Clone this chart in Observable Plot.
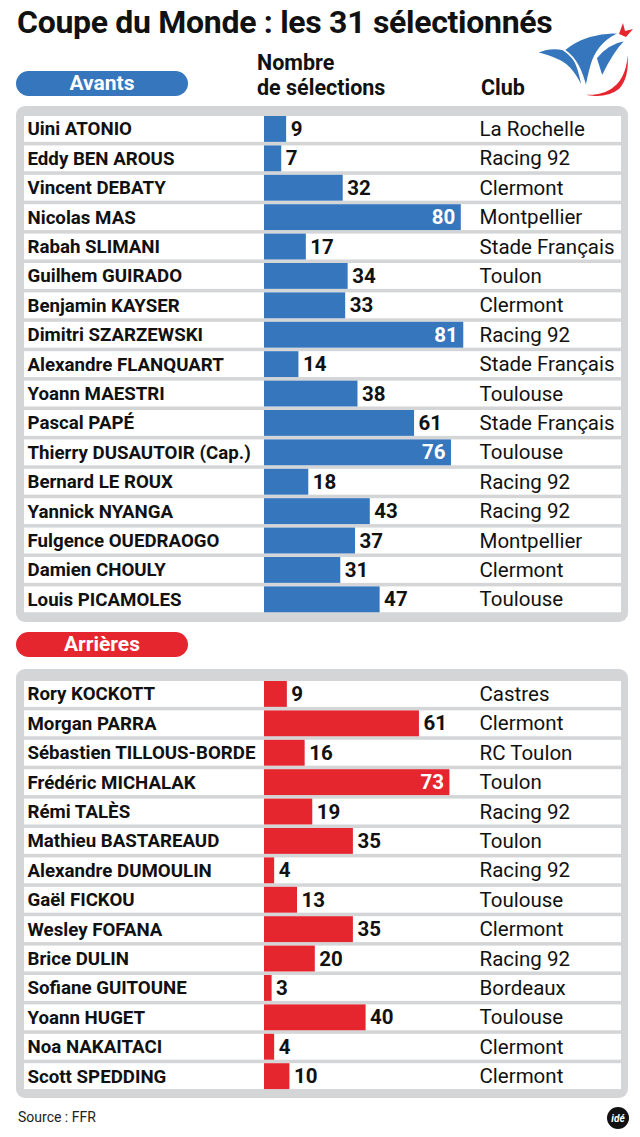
<!DOCTYPE html>
<html><head><meta charset="utf-8">
<script src="https://cdn.jsdelivr.net/npm/d3@7"></script>
<script src="https://cdn.jsdelivr.net/npm/@observablehq/plot@0.6"></script>
<style>
body{margin:0;background:#fff;font-family:Roboto,"Open Sans",sans-serif;}
#root{position:relative;width:640px;height:1137px;overflow:hidden;}
.abs{position:absolute;}
.title{left:17px;top:3px;font-size:32px;font-weight:700;color:#111;letter-spacing:-0.3px;white-space:nowrap;}
.pill{left:16px;width:172px;height:25px;border-radius:13px;color:#fff;font-weight:700;font-size:21px;line-height:25px;text-align:center;}
.hdr{font-weight:700;font-size:21.5px;color:#111;line-height:25px;}
.panel{left:16px;width:612px;background:#d4d5d7;border-radius:9px;}
.panel svg{display:block;}
.src{left:18px;top:1109px;font-size:14px;color:#222;}
</style></head>
<body><div id="root">
<div class="abs title">Coupe du Monde : les 31 sélectionnés</div>
<svg class="abs" style="left:520px;top:20px" width="120" height="90" viewBox="0 0 120 90">
  <g stroke="#fff" stroke-width="1.6" stroke-linejoin="round">
  <path d="M16 33 C28 27 42 27 50 33 C56 40 60 52 63 70 C56 54 48 45 40 41 C32 37 24 34 16 33 Z" fill="#3576bd"/>
  <path d="M44 30 C58 18 80 11 100 13 C88 18 78 28 73 40 C70 48 68 58 66 68 C62 52 57 39 44 30 Z" fill="#3576bd"/>
  <path d="M76 38 C84 28 94 22 106 20 C98 28 90 40 82 57 Z" fill="#3576bd"/>
  <path d="M50 68 C62 77 84 76 96 64 C105 54 108 40 106 24 C111 42 109 60 99 70 C86 80 64 79 50 68 Z" fill="#e5262f"/>
  </g>
  <path d="M99 14 L103 3 L105 11 L113 9 L106 17 Z" fill="#e5262f"/>
</svg>
<div class="abs pill" style="top:71px;background:#3576bd">Avants</div>
<div class="abs hdr" style="left:257px;top:50px">Nombre<br>de sélections</div>
<div class="abs hdr" style="left:481px;top:75px">Club</div>
<div class="abs panel" id="p1" style="top:106px;height:516px"></div>
<div class="abs pill" style="top:632px;background:#e5262f">Arrières</div>
<div class="abs panel" id="p2" style="top:669px;height:429px"></div>
<div class="abs src">Source : FFR</div>
<svg class="abs" style="left:606px;top:1106px" width="24" height="24"><circle cx="12" cy="12" r="11" fill="#111"/><text x="12" y="16" text-anchor="middle" fill="#fff" font-size="10" font-weight="700" font-style="italic" font-family="Roboto">idé</text></svg>
</div>
<script>
const avantsNames = ["Uini ATONIO","Eddy BEN AROUS","Vincent DEBATY","Nicolas MAS","Rabah SLIMANI","Guilhem GUIRADO","Benjamin KAYSER","Dimitri SZARZEWSKI","Alexandre FLANQUART","Yoann MAESTRI","Pascal PAPÉ","Thierry DUSAUTOIR (Cap.)","Bernard LE ROUX","Yannick NYANGA","Fulgence OUEDRAOGO","Damien CHOULY","Louis PICAMOLES"];
const avantsSel = [9,7,32,80,17,34,33,81,14,38,61,76,18,43,37,31,47];
const avantsClubs = ["La Rochelle","Racing 92","Clermont","Montpellier","Stade Français","Toulon","Clermont","Racing 92","Stade Français","Toulouse","Stade Français","Toulouse","Racing 92","Racing 92","Montpellier","Clermont","Toulouse"];

const arrieresNames = ["Rory KOCKOTT","Morgan PARRA","Sébastien TILLOUS-BORDE","Frédéric MICHALAK","Rémi TALÈS","Mathieu BASTAREAUD","Alexandre DUMOULIN","Gaël FICKOU","Wesley FOFANA","Brice DULIN","Sofiane GUITOUNE","Yoann HUGET","Noa NAKAITACI","Scott SPEDDING"];
const arrieresSel = [9,61,16,73,19,35,4,13,35,20,3,40,4,10];
const arrieresClubs = ["Castres","Clermont","RC Toulon","Toulon","Racing 92","Toulon","Racing 92","Toulouse","Clermont","Racing 92","Bordeaux","Toulouse","Clermont","Clermont"];

const W = 612, BAR0 = 248, STEP = 29.4, GAP = 0.12, CLUBX = 463;

function panel(names, vals, clubs, color, k, H, top) {
  const data = names.map((n, i) => ({name: n, sel: vals[i], club: clubs[i]}));
  const x0 = -BAR0 / k, x1 = (W - BAR0) / k;
  return Plot.plot({
    width: W, height: H, margin: 0,
    style: {background: "transparent", fontFamily: "Roboto", color: "#111"},
    x: {domain: [x0, x1], range: [0, W], axis: null},
    y: {domain: names, range: [top, top + STEP * (names.length - GAP)], paddingInner: GAP, paddingOuter: 0, round: false, axis: null},
    marks: [
      Plot.barX(data, {y: "name", x1: () => x0, x2: () => x1, fill: "white", insetLeft: 8, insetRight: 7}),
      Plot.barX(data, {y: "name", x1: () => 0, x2: "sel", fill: color}),
      Plot.text(data, {y: "name", x: () => x0, dx: 11, text: "name", textAnchor: "start", fontWeight: 700, fontSize: 18.7}),
      Plot.text(data.filter(d => d.sel < 70), {y: "name", x: "sel", dx: 4, text: d => String(d.sel), textAnchor: "start", fontWeight: 700, fontSize: 20.5}),
      Plot.text(data.filter(d => d.sel >= 70), {y: "name", x: "sel", dx: -6, text: d => String(d.sel), textAnchor: "end", fontWeight: 700, fontSize: 20.5, fill: "white"}),
      Plot.text(data, {y: "name", x: () => x0, dx: CLUBX, text: "club", textAnchor: "start", fontSize: 20.5, letterSpacing: "0.5px"})
    ]
  });
}
document.getElementById("p1").append(panel(avantsNames, avantsSel, avantsClubs, "#3576bd", 2.46, 516, 10));
document.getElementById("p2").append(panel(arrieresNames, arrieresSel, arrieresClubs, "#e5262f", 2.54, 429, 12));
</script>
</body></html>
